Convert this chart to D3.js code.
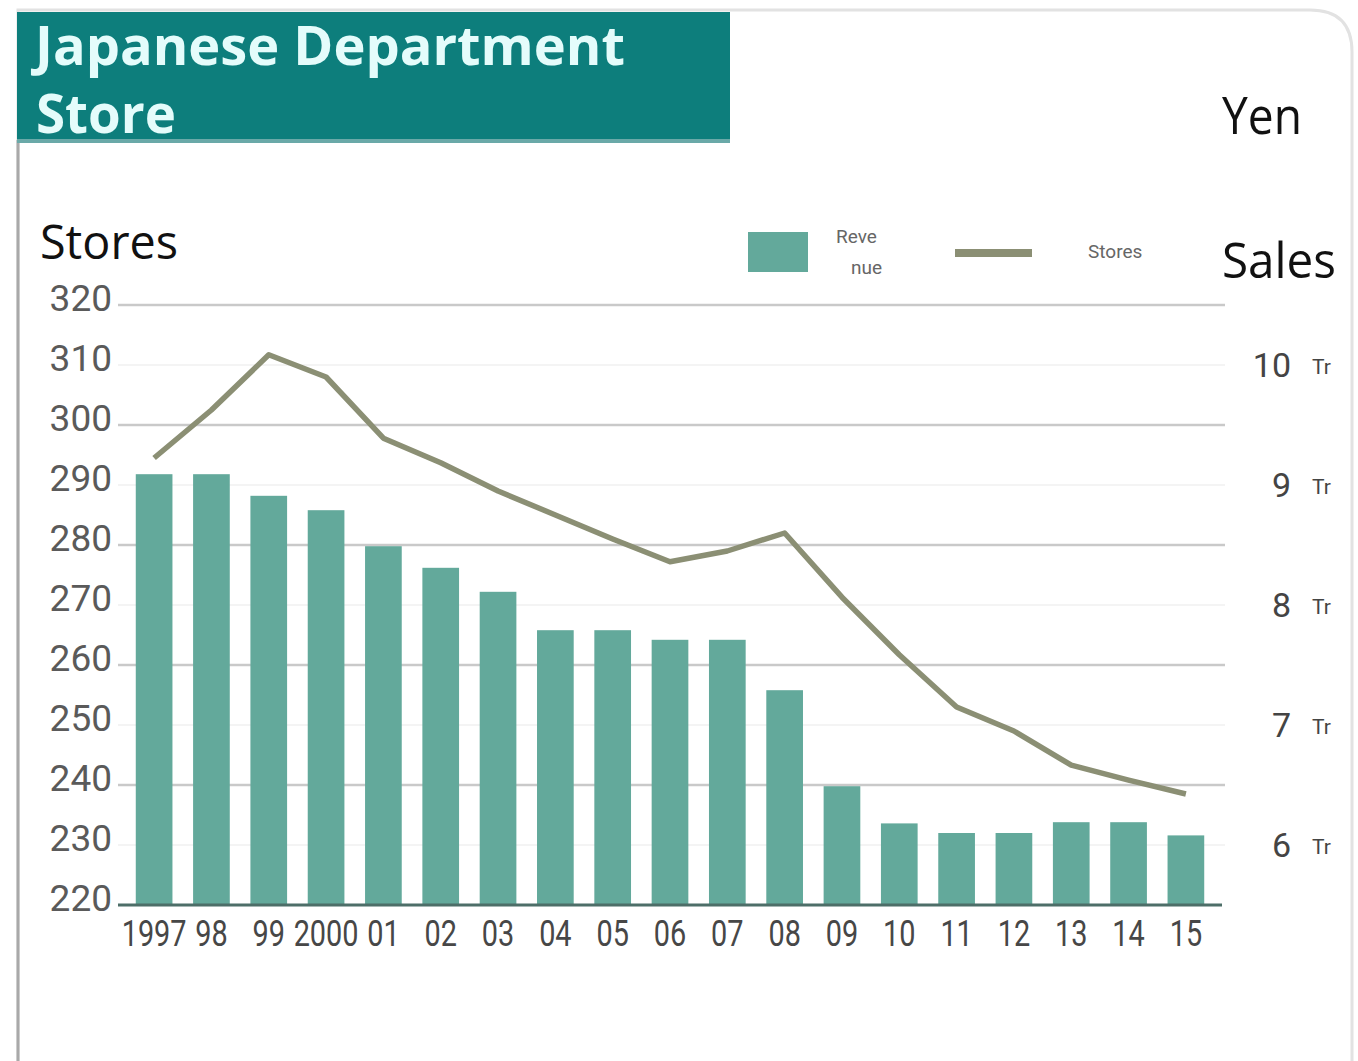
<!DOCTYPE html>
<html>
<head>
<meta charset="utf-8">
<script src="https://cdn.jsdelivr.net/npm/d3@7"></script>
<style>
  html, body { margin: 0; padding: 0; background: #ffffff; }
  svg { display: block; }
</style>
</head>
<body>
<svg id="chart" width="1358" height="1061"></svg>
<script>
// Years on the category axis and their printed labels
const years = ["1997","1998","1999","2000","2001","2002","2003","2004","2005","2006",
               "2007","2008","2009","2010","2011","2012","2013","2014","2015"];
const yearLabels = ["1997","98","99","2000","01","02","03","04","05","06",
                    "07","08","09","10","11","12","13","14","15"];

// Annual sales, trillion yen (bars, right axis)
const sales = [9.09, 9.09, 8.91, 8.79, 8.49, 8.31, 8.11, 7.79, 7.79, 7.71,
               7.71, 7.29, 6.49, 6.18, 6.10, 6.10, 6.19, 6.19, 6.08];

// Number of stores (line, left axis)
const stores = [294.5, 302.5, 311.7, 308.0, 297.8, 293.7, 289.0, 285.0, 281.0, 277.2,
                279.0, 282.0, 271.3, 261.7, 253.0, 249.0, 243.3, 240.8, 238.5];

// Axis ticks
const storeTicks = [220, 230, 240, 250, 260, 270, 280, 290, 300, 310, 320];
const salesTicks = [6, 7, 8, 9, 10];
const salesTickLabels = ["6", "7", "8", "9", "10"];

// Legend entries
const legendLabels = [["Reve", "nue"], ["Stores"]];

const svg = d3.select("#chart");
const W = 1358, H = 1061;

const plot = { left: 118, right: 1222, top: 305, bottom: 905 };

const x = d3.scaleBand()
  .domain(years)
  .range([plot.left, plot.right])
  .paddingInner(0.36)
  .paddingOuter(0.31);

const yStores = d3.scaleLinear().domain([220, 320]).range([plot.bottom, plot.top]);
const ySales = d3.scaleLinear().domain([5.5, 10.5]).range([plot.bottom, plot.top]);

// Card outline with a rounded top-right corner
svg.append("rect").attr("width", W).attr("height", H).attr("fill", "#ffffff");
svg.append("path")
  .attr("d", `M18,${H} L18,10 L1310,10 Q1352,10 1352,52 L1352,${H}`)
  .attr("fill", "none")
  .attr("stroke", "#e2e2e2")
  .attr("stroke-width", 3);
svg.append("line")
  .attr("x1", 18).attr("x2", 18).attr("y1", 140).attr("y2", H)
  .attr("stroke", "#a9a9a9").attr("stroke-width", 3);

// Title banner
svg.append("rect")
  .attr("x", 17).attr("y", 12).attr("width", 713).attr("height", 130)
  .attr("fill", "#0d7e7c");
svg.append("rect")
  .attr("x", 17).attr("y", 139).attr("width", 713).attr("height", 4)
  .attr("fill", "#6aa9a8");
const title = svg.append("text")
  .attr("font-family", "'Open Sans', 'Noto Sans', sans-serif")
  .attr("font-weight", 700)
  .attr("font-size", 53)
  .attr("fill", "#e4fcfb");
title.append("tspan").attr("x", 35).attr("y", 65)
  .attr("textLength", 590).attr("lengthAdjust", "spacingAndGlyphs")
  .text("Japanese Department");
title.append("tspan").attr("x", 36).attr("y", 133)
  .attr("textLength", 140).attr("lengthAdjust", "spacingAndGlyphs")
  .text("Store");

// Axis titles
const unitFont = "'Open Sans', 'Noto Sans', sans-serif";
svg.append("text").attr("x", 1222).attr("y", 134)
  .attr("font-family", unitFont).attr("font-size", 52).attr("fill", "#111")
  .attr("textLength", 80).attr("lengthAdjust", "spacingAndGlyphs")
  .text("Yen");
svg.append("text").attr("x", 1222).attr("y", 278)
  .attr("font-family", unitFont).attr("font-size", 50).attr("fill", "#111")
  .attr("textLength", 114).attr("lengthAdjust", "spacingAndGlyphs")
  .text("Sales");
svg.append("text").attr("x", 40).attr("y", 259)
  .attr("font-family", unitFont).attr("font-size", 47).attr("fill", "#111")
  .attr("textLength", 138).attr("lengthAdjust", "spacingAndGlyphs")
  .text("Stores");

// Gridlines every 10 stores, stronger every 20
const grid = svg.append("g");
grid.selectAll("line")
  .data(storeTicks.filter(d => d > 220))
  .join("line")
  .attr("x1", plot.left).attr("x2", plot.right + 3)
  .attr("y1", d => yStores(d)).attr("y2", d => yStores(d))
  .attr("stroke", d => (d % 20 === 0) ? "#c9c9c9" : "#f1f1f1")
  .attr("stroke-width", d => (d % 20 === 0) ? 2.5 : 1.5);

// Sales bars
svg.append("g").selectAll("rect")
  .data(years.map((yr, i) => ({ yr, v: sales[i] })))
  .join("rect")
  .attr("x", d => x(d.yr))
  .attr("width", x.bandwidth())
  .attr("y", d => ySales(d.v))
  .attr("height", d => ySales.range()[0] - ySales(d.v))
  .attr("fill", "#63a99b");

// Baseline
svg.append("line")
  .attr("x1", plot.left).attr("x2", plot.right)
  .attr("y1", plot.bottom).attr("y2", plot.bottom)
  .attr("stroke", "#4d6e68").attr("stroke-width", 3);

// Store count line
const line = d3.line()
  .x((d, i) => x(years[i]) + x.bandwidth() / 2)
  .y(d => yStores(d));
svg.append("path")
  .datum(stores)
  .attr("d", line)
  .attr("fill", "none")
  .attr("stroke", "#8b8f74")
  .attr("stroke-width", 5.5)
  .attr("stroke-linejoin", "round");

// Left axis labels
const leftAxis = d3.axisLeft(yStores).tickValues(storeTicks).tickSize(0).tickPadding(0);
const gl = svg.append("g").attr("transform", "translate(112,-6)").call(leftAxis);
gl.select(".domain").remove();
gl.selectAll("text")
  .attr("font-family", "Roboto, sans-serif")
  .attr("font-size", 37)
  .attr("fill", "#5a5a5a");

// Right axis labels with "Tr" unit suffix
const gr = svg.append("g");
const rt = gr.selectAll("g")
  .data(salesTicks.map((v, i) => ({ v, label: salesTickLabels[i] })))
  .join("g")
  .attr("transform", d => `translate(0,${ySales(d.v)})`);
rt.append("text")
  .attr("x", 1291).attr("dy", "0.35em")
  .attr("text-anchor", "end")
  .attr("font-family", "Roboto, sans-serif")
  .attr("font-size", 34)
  .attr("fill", "#444")
  .text(d => d.label);
rt.append("text")
  .attr("x", 1312).attr("dy", "0.45em")
  .attr("font-family", "Roboto, sans-serif")
  .attr("font-size", 21)
  .attr("fill", "#444")
  .text("Tr");

// Category axis labels, horizontally narrowed
const bottomAxis = d3.axisBottom(x).tickFormat((d, i) => yearLabels[i]).tickSize(0).tickPadding(0);
const gb = svg.append("g").attr("transform", `translate(0,${plot.bottom + 15})`).call(bottomAxis);
gb.select(".domain").remove();
gb.selectAll("text")
  .attr("font-family", "Roboto, sans-serif")
  .attr("font-size", 37)
  .attr("fill", "#474747")
  .attr("dy", "0.71em")
  .attr("transform", "scale(0.78,1)");

// Legend
const lg = svg.append("g");
lg.append("rect").attr("x", 748).attr("y", 232).attr("width", 60).attr("height", 40).attr("fill", "#63a99b");
const l1 = lg.append("text")
  .attr("font-family", "Roboto, sans-serif").attr("font-size", 19).attr("fill", "#666");
l1.append("tspan").attr("x", 836).attr("y", 243).text(legendLabels[0][0]);
l1.append("tspan").attr("x", 851).attr("y", 274).text(legendLabels[0][1]);
lg.append("line").attr("x1", 955).attr("x2", 1032).attr("y1", 253).attr("y2", 253)
  .attr("stroke", "#8b8f74").attr("stroke-width", 8);
lg.append("text").attr("x", 1088).attr("y", 258)
  .attr("font-family", "Roboto, sans-serif").attr("font-size", 19).attr("fill", "#666")
  .text(legendLabels[1][0]);
</script>
</body>
</html>
